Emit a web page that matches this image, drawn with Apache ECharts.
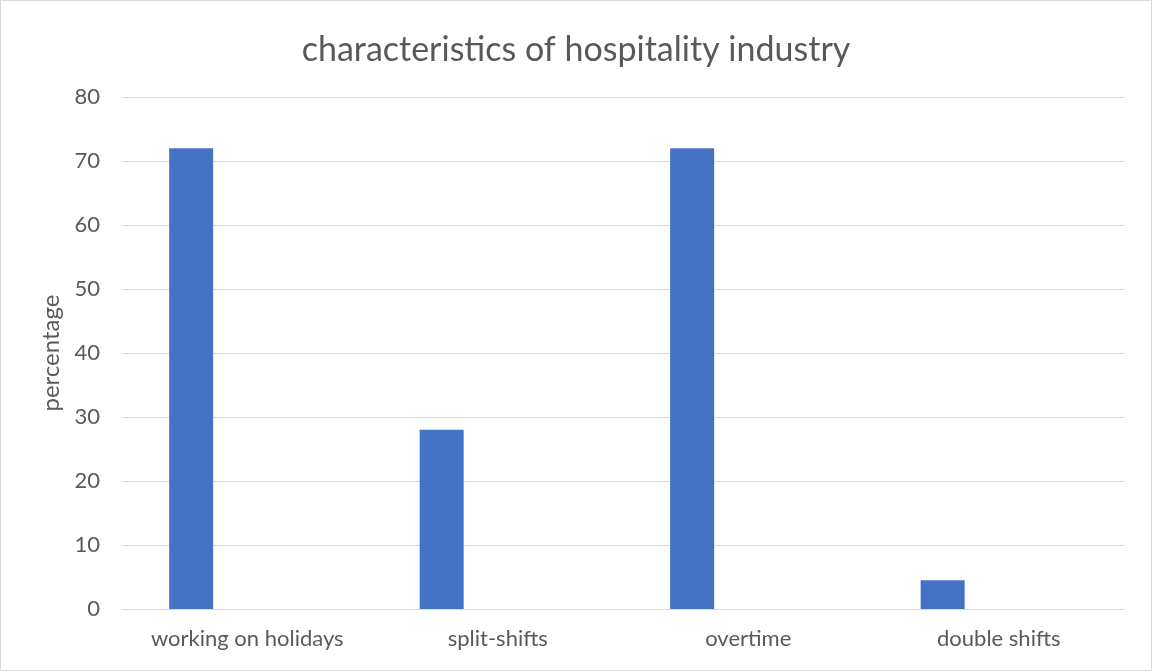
<!DOCTYPE html>
<html>
<head>
<meta charset="utf-8">
<script src="https://cdn.jsdelivr.net/npm/echarts@6/dist/echarts.min.js"></script>
<style>
  html, body { margin: 0; padding: 0; background: #fff; }
  #chart { width: 1150px; height: 669px; border: 1px solid #d9d9d9; }
</style>
</head>
<body>
<div id="chart"></div>
<script>
// data
var categories = ['working on holidays', 'split-shifts', 'overtime', 'double shifts'];
var percentages = [72, 28, 72, 4.5];
var emptySeries = ['-', '-', '-', '-'];
var yTicks = [0, 10, 20, 30, 40, 50, 60, 70, 80];

var fontFamily = 'Lato, "Open Sans", sans-serif';
var chart = echarts.init(document.getElementById('chart'));

var option = {
  animation: false,
  title: {
    text: 'characteristics of hospitality industry',
    left: 'center',
    top: 27,
    textStyle: { fontFamily: fontFamily, fontSize: 34, fontWeight: 'normal', color: '#595959' }
  },
  grid: { left: 121, right: 27, top: 96, bottom: 61, containLabel: false },
  xAxis: {
    type: 'category',
    data: categories,
    axisLine: { lineStyle: { color: '#d9d9d9', width: 1 } },
    axisTick: { show: false },
    axisLabel: { fontFamily: fontFamily, fontSize: 22, color: '#595959', margin: 19 }
  },
  yAxis: {
    type: 'value',
    min: yTicks[0],
    max: yTicks[yTicks.length - 1],
    interval: 10,
    name: 'percentage',
    nameLocation: 'middle',
    nameGap: 58,
    nameTextStyle: { fontFamily: fontFamily, fontSize: 24, color: '#595959' },
    axisLine: { show: false },
    axisTick: { show: false },
    axisLabel: { fontFamily: fontFamily, fontSize: 22, color: '#595959', margin: 22 },
    splitLine: { lineStyle: { color: '#d9d9d9', width: 1 } }
  },
  series: [
    {
      type: 'bar',
      data: percentages,
      barWidth: 44,
      barGap: '155%',
      itemStyle: { color: '#4472c4' }
    },
    {
      type: 'bar',
      data: emptySeries,
      barWidth: 44,
      itemStyle: { color: '#ed7d31' }
    }
  ]
};

chart.setOption(option);
</script>
</body>
</html>
